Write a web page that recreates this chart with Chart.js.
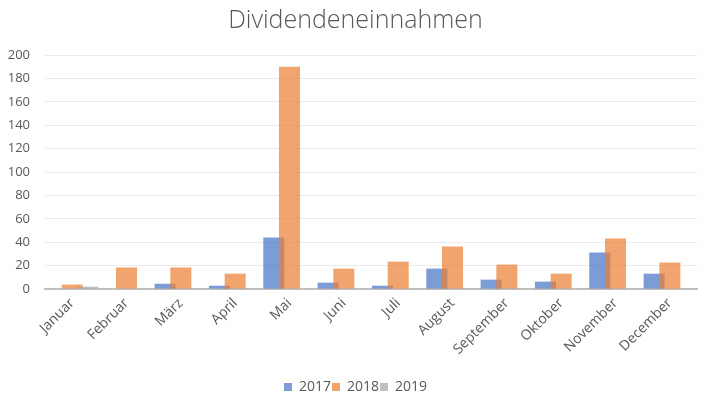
<!DOCTYPE html>
<html>
<head>
<meta charset="utf-8">
<script src="https://cdn.jsdelivr.net/npm/chart.js@4/dist/chart.umd.min.js"></script>
<style>
  html, body { margin: 0; padding: 0; background: #ffffff; }
  #wrap { width: 705px; height: 397px; position: relative; }
</style>
</head>
<body>
<div id="wrap"><canvas id="c" width="705" height="397"></canvas></div>
<script>
const months = ['Januar','Februar','März','April','Mai','Juni','Juli','August','September','Oktober','November','December'];
const values2017 = [0, 0, 4.5, 2.8, 44, 5.4, 2.8, 17.4, 8, 6.3, 31.2, 13.1];
const values2018 = [3.8, 18.4, 18.4, 13.1, 190, 17.4, 23.4, 36.3, 20.9, 13.1, 43.2, 22.6];
const values2019 = [2, 0, 0, 0, 0, 0, 0, 0, 0, 0, 0, 0];
const seriesNames = ['2017', '2018', '2019'];
const yTicks = [0, 20, 40, 60, 80, 100, 120, 140, 160, 180, 200];

const FONT = "'Open Sans', 'Liberation Sans', sans-serif";
const TXT = '#595959';

// draw datasets in index order so later series overlap earlier ones (Excel-like)
const drawOrderPlugin = {
  id: 'drawOrder',
  beforeDatasetsDraw(chart) {
    const metas = chart.getSortedVisibleDatasetMetas();
    for (let i = 0; i < metas.length; i++) {
      chart._drawDataset(metas[i]);
    }
    return false;
  }
};

const barCommon = { barPercentage: 1.34, categoryPercentage: 0.867, borderWidth: 0 };

new Chart(document.getElementById('c'), {
  type: 'bar',
  data: {
    labels: months,
    datasets: [
      Object.assign({ label: seriesNames[0], data: values2017, backgroundColor: 'rgba(68,114,196,0.7)' }, barCommon),
      Object.assign({ label: seriesNames[1], data: values2018, backgroundColor: 'rgba(237,125,49,0.7)' }, barCommon),
      Object.assign({ label: seriesNames[2], data: values2019, backgroundColor: 'rgba(165,165,165,0.7)' }, barCommon)
    ]
  },
  options: {
    responsive: false,
    animation: false,
    devicePixelRatio: 1,
    layout: { padding: { left: 6, right: 0, top: 0, bottom: -7 } },
    plugins: {
      title: {
        display: true,
        text: 'Dividendeneinnahmen',
        color: TXT,
        font: { family: FONT, size: 25, weight: '300' },
        padding: { top: 6, bottom: 19 }
      },
      legend: {
        display: true,
        position: 'bottom',
        labels: {
          color: TXT,
          font: { family: FONT, size: 14 },
          boxWidth: 8,
          boxHeight: 8,
          padding: 1
        }
      },
      tooltip: { enabled: false }
    },
    scales: {
      x: {
        offset: true,
        grid: { display: false, drawTicks: false },
        border: { display: true, color: '#BFBFBF', width: 2 },
        ticks: {
          color: TXT,
          font: { family: FONT, size: 14 },
          maxRotation: 45,
          minRotation: 45,
          padding: 6,
          autoSkip: false
        },
        afterFit(scale) { scale.height = 90; }
      },
      y: {
        min: 0,
        max: 200,
        afterBuildTicks(scale) { scale.ticks = yTicks.map(v => ({ value: v })); },
        grid: { color: '#EBEBEB', drawTicks: false, lineWidth: 1 },
        border: { display: false },
        ticks: {
          color: TXT,
          font: { family: FONT, size: 13 },
          padding: 15
        },
        afterFit(scale) { scale.width = 39; }
      },
      yRight: {
        position: 'right',
        min: 0,
        max: 200,
        grid: { display: false, drawTicks: false },
        border: { display: false },
        ticks: { display: false },
        afterFit(scale) { scale.width = 8; }
      }
    }
  },
  plugins: [drawOrderPlugin]
});
</script>
</body>
</html>
